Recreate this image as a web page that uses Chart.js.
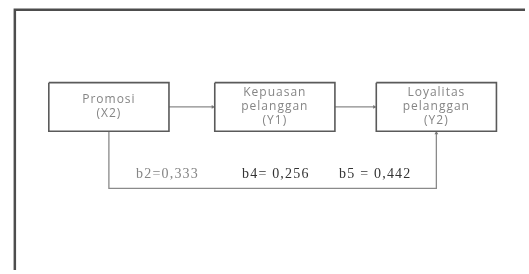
<!DOCTYPE html>
<html><head><meta charset="utf-8">
<script src="https://cdn.jsdelivr.net/npm/chart.js@4/dist/chart.umd.min.js"></script>
<style>html,body{margin:0;padding:0;background:#fff;}#wrap{width:529px;height:274px;}</style>
</head><body><div id="wrap"><canvas id="c" width="529" height="274"></canvas></div>
<script>
// Path-diagram content
const nodeLines = [["Promosi","(X2)"],["Kepuasan","pelanggan","(Y1)"],["Loyalitas","pelanggan","(Y2)"]];
const nodeCenterX = [106.5, 275, 439];
const nodeCenterY = [106, 106, 106];
const coefLabels = ["b2=0,333", "b4= 0,256", "b5 = 0,442"];
const coefX = [166, 276, 377];
const coefY = [175, 175, 175];
// Edges: from node index -> to node index
const edges = [[0,1],[1,2],[0,2]];

const L = {boxHW: 61, boxHH: 25, loopY: 190, frameX: 11, frameY: 6, lineH: 14.5};

function boxPts(i){
  const cx=nodeCenterX[i], cy=nodeCenterY[i];
  return [{x:cx-L.boxHW,y:cy-L.boxHH},{x:cx+L.boxHW,y:cy-L.boxHH},{x:cx+L.boxHW,y:cy+L.boxHH},{x:cx-L.boxHW,y:cy+L.boxHH},{x:cx-L.boxHW,y:cy-L.boxHH}];
}
const datasets = [];
datasets.push({data:[{x:529,y:L.frameY},{x:L.frameX,y:L.frameY},{x:L.frameX,y:274}],borderColor:'#4d4d4d',borderWidth:2.5,pointRadius:0,showLine:true});
for(let i=0;i<nodeLines.length;i++){
  datasets.push({data:boxPts(i),borderColor:'#5a5a5a',borderWidth:1.6,pointRadius:0,showLine:true});
}
edges.forEach(([a,b])=>{
  let pts, rot;
  if(b===a+1){
    pts=[{x:nodeCenterX[a]+L.boxHW,y:nodeCenterY[a]},{x:nodeCenterX[b]-L.boxHW-2,y:nodeCenterY[b]}];
    rot=90;
  } else {
    pts=[{x:nodeCenterX[a],y:nodeCenterY[a]+L.boxHH},{x:nodeCenterX[a],y:L.loopY},{x:nodeCenterX[b],y:L.loopY},{x:nodeCenterX[b],y:nodeCenterY[b]+L.boxHH+2}];
    rot=0;
  }
  datasets.push({data:pts,borderColor:'#8a8a8a',borderWidth:1.3,showLine:true,
    pointRadius:pts.map((p,k)=>k===pts.length-1?2.2:0),pointStyle:'triangle',pointRotation:rot,
    pointBackgroundColor:'#777',pointBorderColor:'#777',pointBorderWidth:0});
});

const textPlugin = {
  id:'texts',
  afterDatasetsDraw(chart){
    const ctx=chart.ctx, xs=chart.scales.x, ys=chart.scales.y;
    ctx.save();
    ctx.textAlign='center'; ctx.textBaseline='middle';
    ctx.font='12px "Open Sans"'; ctx.fillStyle='#858585';
    ctx.letterSpacing='1px';
    nodeLines.forEach((lines,i)=>{
      const n=lines.length;
      lines.forEach((t,k)=>{
        const y=nodeCenterY[i]+(k-(n-1)/2)*L.lineH;
        ctx.fillText(t, xs.getPixelForValue(nodeCenterX[i]), ys.getPixelForValue(y));
      });
    });
    const colors=['#858585','#333333','#333333'];
    ctx.letterSpacing='1.2px';
    coefLabels.forEach((t,i)=>{
      ctx.font='14px "Liberation Serif"';
      ctx.fillStyle=colors[i];
      ctx.fillText(t, xs.getPixelForValue(coefX[i]), ys.getPixelForValue(coefY[i]));
    });
    ctx.restore();
  }
};

new Chart(document.getElementById('c'),{
  type:'scatter',
  data:{datasets},
  options:{
    responsive:false, animation:false, devicePixelRatio:1,
    layout:{padding:0},
    plugins:{legend:{display:false},tooltip:{enabled:false}},
    scales:{
      x:{type:'linear',min:0,max:529,display:false},
      y:{type:'linear',min:0,max:274,reverse:true,display:false}
    }
  },
  plugins:[textPlugin]
});
</script></body></html>
